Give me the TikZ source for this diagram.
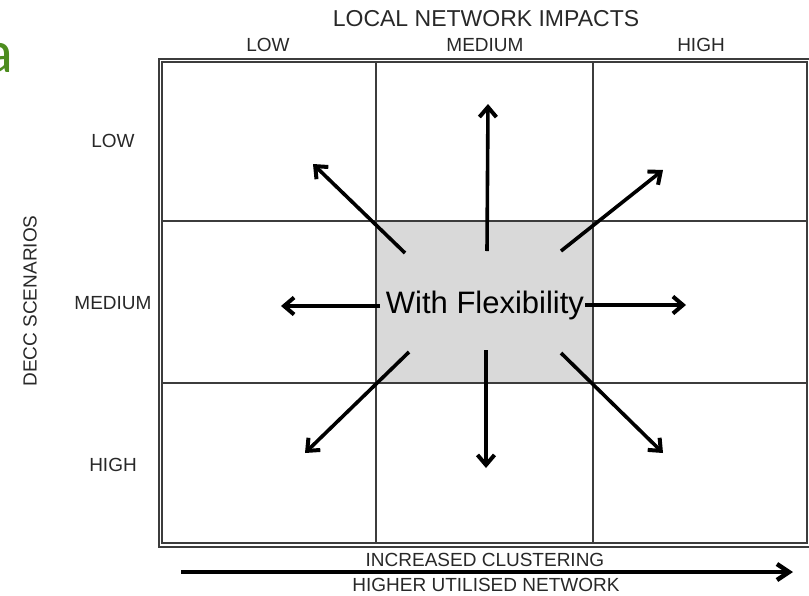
\documentclass[tikz,border=0pt]{standalone}
\usepackage{fontspec}
\setmainfont{Liberation Sans}
\newfontfamily\greenfont{Carlito}
\usetikzlibrary{arrows.meta}
\definecolor{gridc}{RGB}{60,60,60}
\definecolor{cellgray}{RGB}{217,217,217}
\definecolor{txtc}{RGB}{40,40,40}
\definecolor{greena}{RGB}{76,140,30}
\tikzset{
  lbl/.style={inner sep=0pt, text=txtc, font=\fontsize{19}{19}\selectfont},
  ttl/.style={inner sep=0pt, text=txtc, font=\fontsize{23}{23}\selectfont},
  gline/.style={draw=gridc, line width=1.3pt},
  flexarrow/.style={line width=3.6pt, -{Straight Barb[length=10pt,width=17pt,line width=4pt]}},
  bigarrow/.style={line width=4.5pt, -{Straight Barb[length=12pt,width=16pt,line width=4.5pt]}}
}
\begin{document}
\begin{tikzpicture}[x=1pt,y=-1pt]
\useasboundingbox (0,0) rectangle (809,595);
% green fragment
\node[inner sep=0pt, anchor=base east, text=greena, font=\greenfont\fontsize{60}{60}\selectfont] (ga) at (13,72) {a};
% center shaded cell
\fill[cellgray] (376,221) rectangle (593,383);
% double frame
\draw[draw=gridc, line width=2pt] (158.5,58.5) rectangle (812,547);
\draw[gline] (162,62) rectangle (807,543);
% grid
\draw[gline] (376,62) -- (376,543);
\draw[gline] (593,62) -- (593,543);
\draw[gline] (162,221) -- (807,221);
\draw[gline] (162,383) -- (807,383);
% titles
\node[ttl] (top) at (486,19) {LOCAL NETWORK IMPACTS};
\node[lbl] (cl) at (268,45) {LOW};
\node[lbl] (cm) at (485,45) {MEDIUM};
\node[lbl] (ch) at (701,45) {HIGH};
\node[lbl] (rl) at (113,141) {LOW};
\node[lbl] (rm) at (113,303) {MEDIUM};
\node[lbl] (rh) at (113,465) {HIGH};
\node[lbl, rotate=90] (decc) at (30,301) {DECC SCENARIOS};
\node[lbl] (inc) at (485,560) {INCREASED CLUSTERING};
\node[lbl] (hig) at (486,585) {HIGHER UTILISED NETWORK};
% center text
\node[inner sep=0pt, anchor=base, text=black, font=\fontsize{31}{31}\selectfont] (flex) at (485,313) {With Flexibility};
% arrow coordinates
\coordinate (s1) at (405,253); \coordinate (e1) at (313,164);
\coordinate (s2) at (487,251); \coordinate (e2) at (488,104);
\coordinate (s3) at (561,251); \coordinate (e3) at (663,170);
\coordinate (s4) at (380,306); \coordinate (e4) at (281,306);
\coordinate (s5) at (585,305); \coordinate (e5) at (686,305);
\coordinate (s6) at (409,352); \coordinate (e6) at (305,453);
\coordinate (s7) at (486,350); \coordinate (e7) at (486,468);
\coordinate (s8) at (561,353); \coordinate (e8) at (663,453);
\foreach \i in {1,...,8} {\draw[flexarrow] (s\i) -- (e\i);}
% bottom arrow
\coordinate (bs) at (181,572); \coordinate (be) at (793,572);
\draw[bigarrow] (bs) -- (be);
\end{tikzpicture}
\end{document}
